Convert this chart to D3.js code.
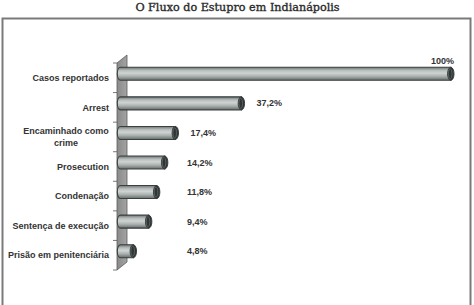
<!DOCTYPE html>
<html>
<head>
<meta charset="utf-8">
<script src="https://cdn.jsdelivr.net/npm/d3@7"></script>
<style>
  body { margin: 0; background: #fff; }
  svg { display: block; }
</style>
</head>
<body>
<script>
// data
const categories = ["Casos reportados", "Arrest", "Encaminhado como crime", "Prosecution",
                    "Condenação", "Sentença de execução", "Prisão em penitenciária"];
const values = [100, 37.2, 17.4, 14.2, 11.8, 9.4, 4.8];
const valueLabels = ["100%", "37,2%", "17,4%", "14,2%", "11,8%", "9,4%", "4,8%"];
const title = "O Fluxo do Estupro em Indianápolis";

let width = 474, height = 305;
let depth = {dx: 10, dy: -8};   // 3d offset of the back wall

let svg = d3.select("body").append("svg")
    .attr("width", width)
    .attr("height", height);

let defs = svg.append("defs");
let grad = defs.append("linearGradient")
    .attr("id", "barGrad")
    .attr("x1", 0).attr("y1", 0).attr("x2", 0).attr("y2", 1);
[[0, "#6f7776"], [0.25, "#b9bfbe"], [0.45, "#cfd4d3"], [0.7, "#a9b0ae"], [1, "#646c6b"]]
    .forEach(s => grad.append("stop").attr("offset", s[0]).attr("stop-color", s[1]));

let wallGrad = defs.append("linearGradient")
    .attr("id", "wallGrad")
    .attr("x1", 0).attr("y1", 0).attr("x2", 1).attr("y2", 0);
[[0, "#8a8a8a"], [1, "#a3a3a3"]]
    .forEach(s => wallGrad.append("stop").attr("offset", s[0]).attr("stop-color", s[1]));

// title
svg.append("text")
    .attr("x", 237.5)
    .attr("y", 11)
    .attr("text-anchor", "middle")
    .style("font-family", "'DejaVu Serif', serif")
    .style("font-size", "11.2px")
    .style("fill", "#2a2a2a")
    .style("stroke", "#2a2a2a")
    .style("stroke-width", 0.35)
    .text(title);

// chart frame
svg.append("rect")
    .attr("x", 2.5).attr("y", 18.5)
    .attr("width", 468).attr("height", 300)
    .attr("fill", "none")
    .attr("stroke", "#7a7a7a")
    .attr("stroke-width", 2);

// scales
let x0 = 117;
let xScale = d3.scaleLinear()
    .domain([0, 100])
    .range([x0 + depth.dx / 2 - 1.5, 454]);

let yScale = d3.scaleBand()
    .domain(categories)
    .range([63, 270])
    .paddingInner(0)
    .paddingOuter(0);

let bw = yScale.bandwidth();
let yTop = yScale.range()[0], yBottom = yScale.range()[1];

// back wall (3d axis)
svg.append("path")
    .attr("d", `M${x0},${yTop} L${x0 + depth.dx},${yTop + depth.dy} L${x0 + depth.dx},${yBottom + depth.dy} L${x0},${yBottom} Z`)
    .attr("fill", "url(#wallGrad)")
    .attr("stroke", "#5a5a5a")
    .attr("stroke-width", 0.8);

// tick marks
svg.append("g")
    .selectAll("line")
    .data(d3.range(categories.length + 1))
    .join("line")
    .attr("x1", x0 - 4).attr("x2", x0)
    .attr("y1", i => yTop + i * bw)
    .attr("y2", i => yTop + i * bw)
    .attr("stroke", "#555")
    .attr("stroke-width", 0.8);

// category labels
let labelG = svg.append("g")
    .style("font-family", "'Liberation Sans', Arial, sans-serif")
    .style("font-size", "9px")
    .style("font-weight", "bold")
    .style("fill", "#333");

categories.forEach(c => {
    let cy = yScale(c) + bw / 2;
    if (c === "Encaminhado como crime") {
        let t = labelG.append("text")
            .attr("x", 66)
            .attr("text-anchor", "middle");
        t.append("tspan").attr("x", 66).attr("y", cy - 3).text("Encaminhado como");
        t.append("tspan").attr("x", 66).attr("y", cy + 9).text("crime");
    } else {
        labelG.append("text")
            .attr("x", 109)
            .attr("y", cy + 3.2)
            .attr("text-anchor", "end")
            .text(c);
    }
});

// bars as cylinders
let barH = 13, rx = 3.2;
let barsG = svg.append("g");
categories.forEach((c, i) => {
    let cy = yScale(c) + bw / 2 + depth.dy / 2;
    let xs = xScale(0), xe = xScale(values[i]) - rx;
    let g = barsG.append("g");
    g.append("path")
        .attr("d", `M${xe},${cy - barH / 2} L${xs},${cy - barH / 2} A${rx},${barH / 2} 0 0 0 ${xs},${cy + barH / 2} L${xe},${cy + barH / 2} Z`)
        .attr("fill", "url(#barGrad)")
        .attr("stroke", "#3a3f3f")
        .attr("stroke-width", 1.1);
    g.append("ellipse")
        .attr("cx", xe).attr("cy", cy)
        .attr("rx", rx).attr("ry", barH / 2)
        .attr("fill", "#2f3535")
        .attr("stroke", "#3a3f3f")
        .attr("stroke-width", 1);
    g.append("ellipse")
        .attr("cx", xe - 0.6).attr("cy", cy)
        .attr("rx", rx - 1.4).attr("ry", barH / 2 - 1.4)
        .attr("fill", "none")
        .attr("stroke", "#707878")
        .attr("stroke-width", 0.6);
});

// value labels
svg.append("g")
    .style("font-family", "'Liberation Sans', Arial, sans-serif")
    .style("font-size", "9px")
    .style("font-weight", "bold")
    .style("fill", "#333")
    .selectAll("text")
    .data(values)
    .join("text")
    .attr("x", (v, i) => i === 0 ? xScale(v) : Math.max(xScale(v) + 12, 187))
    .attr("y", (v, i) => yScale(categories[i]) + bw / 2 + depth.dy / 2 + (i === 0 ? -10 : 3))
    .attr("text-anchor", (v, i) => i === 0 ? "end" : "start")
    .text((v, i) => valueLabels[i]);
</script>
</body>
</html>
